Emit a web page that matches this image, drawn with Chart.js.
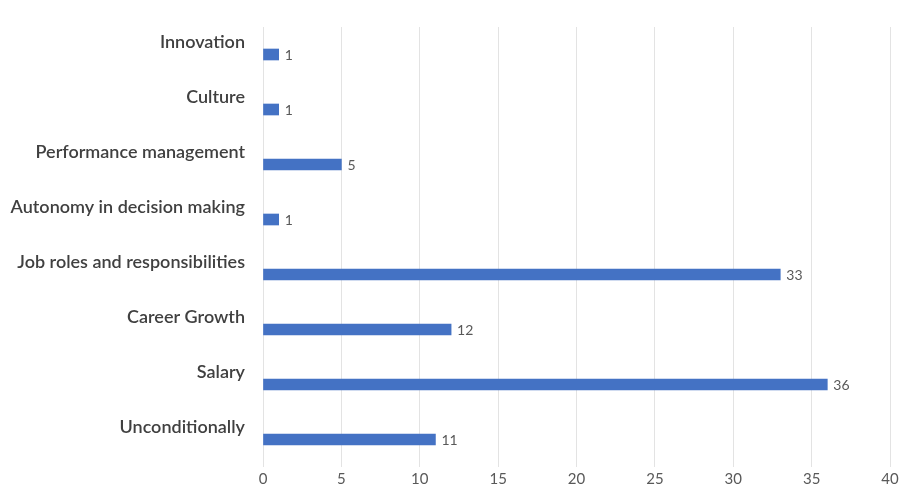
<!DOCTYPE html>
<html>
<head>
<meta charset="utf-8">
<script src="https://cdn.jsdelivr.net/npm/chart.js@4/dist/chart.umd.min.js"></script>
<style>
  html, body { margin: 0; padding: 0; background: #fff; }
  #wrap { width: 901px; height: 489px; }
</style>
</head>
<body>
<div id="wrap"><canvas id="chart"></canvas></div>
<script>
// categories top to bottom, as in the picture
var categories = ['Innovation', 'Culture', 'Performance management', 'Autonomy in decision making',
    'Job roles and responsibilities', 'Career Growth', 'Salary', 'Unconditionally'];
var counts = [1, 1, 5, 1, 33, 12, 36, 11];
var xTicks = [0, 5, 10, 15, 20, 25, 30, 35, 40];

// writes the value just after the end of each bar
var valueLabels = {
    id: 'valueLabels',
    afterDatasetsDraw: function (chart) {
        var ctx = chart.ctx;
        var meta = chart.getDatasetMeta(0);
        ctx.save();
        ctx.font = '14px Lato';
        ctx.fillStyle = '#595959';
        ctx.textAlign = 'left';
        ctx.textBaseline = 'middle';
        meta.data.forEach(function (bar, i) {
            ctx.fillText(counts[i], bar.x + 6, bar.y + 1);
        });
        ctx.restore();
    }
};

new Chart(document.getElementById('chart'), {
    type: 'bar',
    data: {
        labels: categories,
        datasets: [{
            data: counts,
            backgroundColor: '#4472C4',
            borderWidth: 0,
            barThickness: 11
        }]
    },
    options: {
        indexAxis: 'y',
        responsive: true,
        maintainAspectRatio: false,
        animation: false,
        layout: { padding: { top: 27, right: 0, left: 0, bottom: 0 } },
        plugins: {
            legend: { display: false },
            tooltip: { enabled: false }
        },
        scales: {
            x: {
                min: 0,
                max: 40,
                afterBuildTicks: function (scale) {
                    scale.ticks = xTicks.map(function (v) { return { value: v }; });
                },
                grid: { color: '#e3e3e3', drawTicks: false },
                border: { display: false },
                ticks: { color: '#595959', font: { family: 'Lato', size: 15 }, padding: 3 },
                afterFit: function (scale) {
                    scale.height = 22;
                    scale.paddingRight = 11;
                }
            },
            y: {
                grid: { display: false },
                border: { display: false },
                ticks: {
                    color: '#404040',
                    font: { family: 'Lato', size: 18, weight: '600' },
                    padding: 10,
                    labelOffset: -12
                },
                afterFit: function (scale) { scale.width = 263; }
            }
        }
    },
    plugins: [valueLabels]
});
</script>
</body>
</html>
